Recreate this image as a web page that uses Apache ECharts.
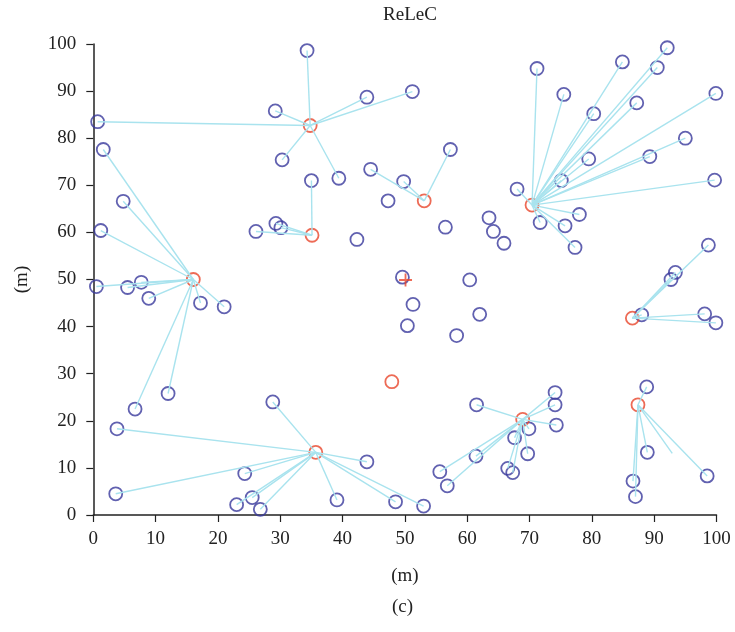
<!DOCTYPE html>
<html>
<head>
<meta charset="utf-8">
<script src="https://cdn.jsdelivr.net/npm/echarts@6/dist/echarts.min.js"></script>
<style>html,body{margin:0;padding:0;background:#fff}#c{width:735px;height:632px}</style>
</head>
<body>
<div id="c"></div>
<script>
// Cluster heads (red circles)
const heads = [
  [34.8, 82.7], [16.05, 50.0], [35.1, 59.4], [53.1, 66.7], [70.4, 65.8],
  [86.5, 41.8], [47.9, 28.3], [35.7, 13.3], [68.9, 20.3], [87.4, 23.4]
];
// Member nodes for each cluster head (same order as heads)
const cluster1 = [[34.3, 98.6], [29.2, 85.8], [30.3, 75.4], [0.7, 83.5], [43.9, 88.7], [51.2, 89.9], [39.4, 71.5]];
const cluster2 = [[1.6, 77.6], [4.8, 66.6], [1.2, 60.4], [0.5, 48.5], [5.5, 48.3], [7.7, 49.4], [8.9, 46.0], [17.2, 45.0], [21.0, 44.2], [6.7, 22.5], [12.0, 25.8]];
const cluster3 = [[35.0, 71.0], [29.3, 61.9], [30.1, 61.0], [26.1, 60.2]];
const cluster4 = [[49.8, 70.8], [44.5, 73.4], [57.3, 77.6]];
const cluster5 = [[71.2, 94.8], [75.5, 89.3], [84.9, 96.2], [92.1, 99.2], [90.5, 95.0], [80.3, 85.2], [87.2, 87.5], [99.9, 89.5], [95.0, 80.0], [89.3, 76.1], [79.5, 75.6], [75.1, 71.0], [99.7, 71.1], [68.0, 69.2], [71.7, 62.1], [75.7, 61.4], [78.0, 63.8], [77.3, 56.8]];
const cluster6 = [[98.7, 57.3], [93.4, 51.5], [92.7, 50.0], [88.0, 42.5], [98.1, 42.7], [99.9, 40.8]];
const cluster7 = [];
const cluster8 = [[3.8, 18.3], [3.6, 4.5], [24.3, 8.8], [25.5, 3.7], [23.0, 2.2], [26.8, 1.2], [28.8, 24.0], [43.9, 11.3], [39.1, 3.2], [48.5, 2.8], [53.0, 1.9]];
const cluster9 = [[61.5, 23.4], [61.4, 12.5], [55.6, 9.2], [56.8, 6.2], [74.1, 26.0], [74.1, 23.4], [74.3, 19.1], [69.9, 18.3], [67.6, 16.4], [69.7, 13.0], [66.5, 9.9], [67.3, 9.0]];
const cluster10 = [[88.8, 27.2], [88.9, 13.3], [86.6, 7.2], [87.0, 3.9], [98.5, 8.3]];
// link drawn without a node marker at its end
const strayLinks = [[9, [92.9, 13.1]]];
// Nodes not attached to any head
const freeNodes = [[47.3, 66.7], [42.3, 58.5], [56.5, 61.1], [63.5, 63.1], [64.2, 60.2], [65.9, 57.7], [49.6, 50.5], [51.3, 44.7], [50.4, 40.2], [60.4, 49.9], [62.0, 42.6], [58.3, 38.1]];
// Sink (red plus)
const sink = [[50.1, 49.9]];
const xTicks = [0, 10, 20, 30, 40, 50, 60, 70, 80, 90, 100];
const yTicks = [0, 10, 20, 30, 40, 50, 60, 70, 80, 90, 100];

const clusters = [cluster1, cluster2, cluster3, cluster4, cluster5, cluster6, cluster7, cluster8, cluster9, cluster10];
const links = [];
clusters.forEach((members, i) => members.forEach(p => links.push({ coords: [p, heads[i]] })));
strayLinks.forEach(([i, p]) => links.push({ coords: [p, heads[i]] }));
const allNodes = [].concat(...clusters, freeNodes);

const font = 'Liberation Serif';
const chart = echarts.init(document.getElementById('c'), null, { renderer: 'canvas' });
chart.setOption({
  animation: false,
  backgroundColor: '#fff',
  title: {
    text: 'ReLeC', left: 405, top: 1, textAlign: 'center',
    textStyle: { fontFamily: font, fontSize: 19, fontWeight: 'normal', color: '#222' }
  },
  graphic: [{
    type: 'text', left: 392, top: 598,
    style: { text: '(c)', fontFamily: font, fontSize: 19, fill: '#222' }
  }],
  grid: { left: 93.3, right: 18.5, top: 44, bottom: 117, containLabel: false },
  xAxis: {
    type: 'value', min: 0, max: 100, interval: 10,
    name: '(m)', nameLocation: 'middle', nameGap: 52,
    nameTextStyle: { fontFamily: font, fontSize: 19, color: '#222' },
    axisLine: { show: true, lineStyle: { color: '#222', width: 1.5 } },
    axisTick: { show: true, length: 7, lineStyle: { color: '#222', width: 1.2 } },
    axisLabel: { fontFamily: font, fontSize: 19, color: '#222', margin: 15,
      formatter: v => xTicks.includes(v) ? String(v) : '' },
    splitLine: { show: false }
  },
  yAxis: {
    type: 'value', min: 0, max: 100, interval: 10,
    name: '(m)', nameLocation: 'middle', nameGap: 62, nameRotate: 90,
    nameTextStyle: { fontFamily: font, fontSize: 19, color: '#222' },
    axisLine: { show: true, lineStyle: { color: '#222', width: 1.5 } },
    axisTick: { show: true, length: 7, lineStyle: { color: '#222', width: 1.2 } },
    axisLabel: { fontFamily: font, fontSize: 19, color: '#222', margin: 17,
      formatter: v => yTicks.includes(v) ? String(v) : '' },
    splitLine: { show: false }
  },
  series: [
    {
      type: 'scatter', data: allNodes, symbol: 'circle', symbolSize: 13, z: 2,
      itemStyle: { color: 'rgba(0,0,0,0)', borderColor: '#3a3a9c', borderWidth: 1.8 },
      emphasis: { disabled: true }, silent: true
    },
    {
      type: 'scatter', data: heads, symbol: 'circle', symbolSize: 13, z: 2,
      itemStyle: { color: 'rgba(0,0,0,0)', borderColor: '#e8462c', borderWidth: 1.8 },
      emphasis: { disabled: true }, silent: true
    },
    {
      type: 'lines', coordinateSystem: 'cartesian2d', data: links, z: 3,
      lineStyle: { color: '#a9e3ee', width: 1.4, opacity: 1 },
      silent: true
    },
    {
      type: 'scatter', data: sink, symbol: 'path://M4.3,0H5.7V4.3H10V5.7H5.7V10H4.3V5.7H0V4.3H4.3Z',
      symbolSize: 13, z: 4, itemStyle: { color: '#e8462c' },
      emphasis: { disabled: true }, silent: true
    }
  ]
});
</script>
</body>
</html>
